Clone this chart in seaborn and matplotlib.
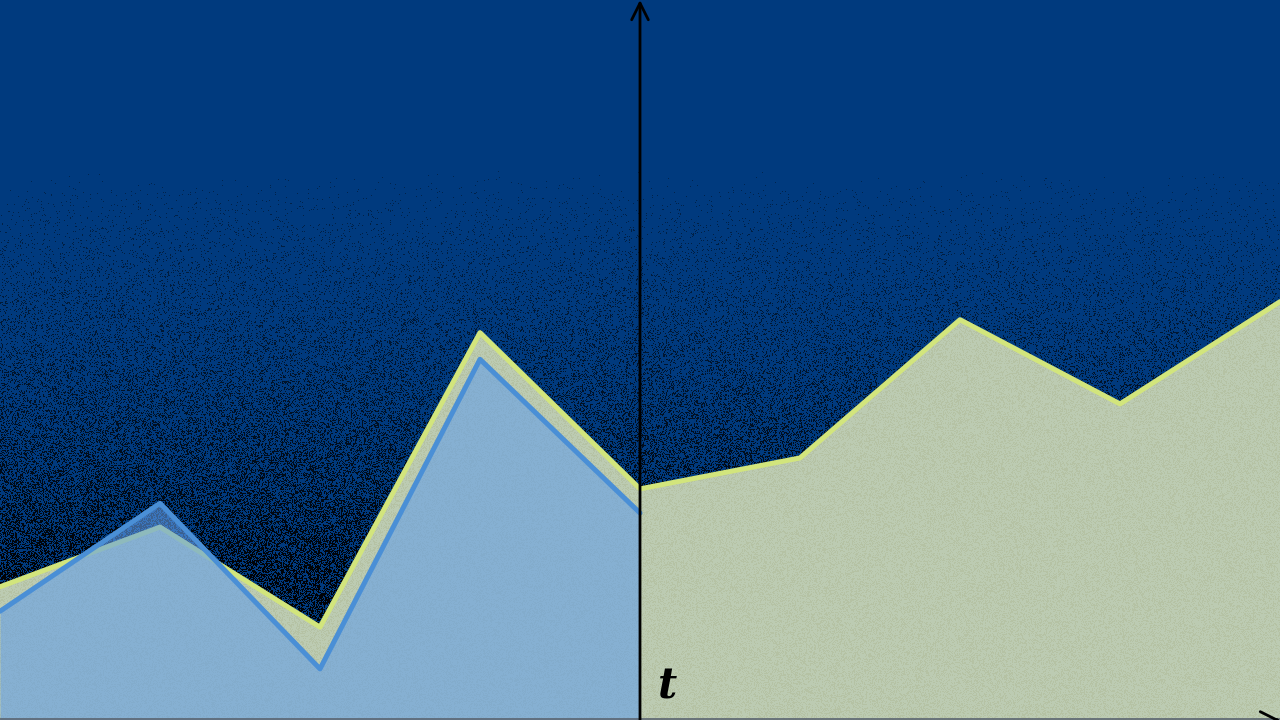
import numpy as np
import pandas as pd
import matplotlib
matplotlib.use("Agg")
import matplotlib.pyplot as plt
import seaborn as sns

# data (y on a 0-100 scale)
t_all = [-4, -3, -2, -1, 0, 1, 2, 3, 4]
green_vals = [18.5, 26.8, 12.9, 53.8, 32.1, 36.4, 55.6, 43.9, 58.1]
t_left = [-4, -3, -2, -1, 0]
blue_vals = [15.1, 30.1, 7.1, 50.1, 28.75]

BG = np.array([0, 58, 126]) / 255
GREEN_LINE = "#d2e57c"
GREEN_FILL = "#bccbb2"
BLUE_LINE = "#4a8fd6"
BLUE_FILL = "#629ee8"

sns.set_theme(style="white")

W, H = 1280, 720
fig = plt.figure(figsize=(12.8, 7.2), dpi=100)
ax = fig.add_axes([0, 0, 1, 1])

# speckled dark-blue background (texture only)
rng = np.random.default_rng(7)
rows = np.arange(H)[:, None]
ramp = np.clip((rows - 170) / 400.0, 0, 1)
p = ramp ** 1.2 * 0.55
mask = rng.random((H, W)) < p
dark = np.broadcast_to(0.35 + 0.6 * ramp, (H, W))
shade = 1 - mask * dark
bg = shade[..., None] * BG
ax.imshow(bg, extent=(-4, 4, 0, 100), aspect="auto", interpolation="nearest", zorder=0)

green = pd.DataFrame({"t": t_all, "v": green_vals})
blue = pd.DataFrame({"t": t_left, "v": blue_vals})

# green area
gfill = ax.fill_between(green["t"], 0, green["v"], color=GREEN_FILL, lw=0, zorder=1)
tex = np.ones((H, W, 4))
tex[..., :3] = np.array([170, 180, 140]) / 255
tex[..., 3] = (rng.random((H, W)) < 0.35) * 0.35
im = ax.imshow(tex, extent=(-4, 4, 0, 100), aspect="auto", interpolation="nearest", zorder=1.5)
im.set_clip_path(gfill.get_paths()[0], transform=ax.transData)
sns.lineplot(data=green, x="t", y="v", ax=ax, color=GREEN_LINE, lw=3.6, zorder=2)

# blue area (left half only)
ax.fill_between(blue["t"], 0, blue["v"], color=BLUE_FILL, alpha=0.6, lw=0, zorder=3)
sns.lineplot(data=blue, x="t", y="v", ax=ax, color=BLUE_LINE, lw=3.6, zorder=4)

ax.set_xlim(-4, 4)
ax.set_ylim(0, 100)
ax.set_axis_off()

# axes with arrows
ax.annotate("", xy=(0, 100), xytext=(0, 0),
            arrowprops=dict(arrowstyle="->", lw=2, color="black", mutation_scale=30,
                            shrinkA=0, shrinkB=0), zorder=6, annotation_clip=False)
ax.axhline(0.08, color="#5a6470", lw=1.2, zorder=5)
ax.annotate("", xy=(4, 0), xytext=(3.97, 0),
            arrowprops=dict(arrowstyle="->", lw=2, color="black", mutation_scale=30,
                            shrinkA=0, shrinkB=0), zorder=6, annotation_clip=False)

ax.text(0.17, 4.7, "t", fontsize=30, family="DejaVu Serif", fontstyle="italic",
        fontweight="bold", color="black", ha="center", va="center", zorder=7)

fig.savefig("out.png", dpi=100)
